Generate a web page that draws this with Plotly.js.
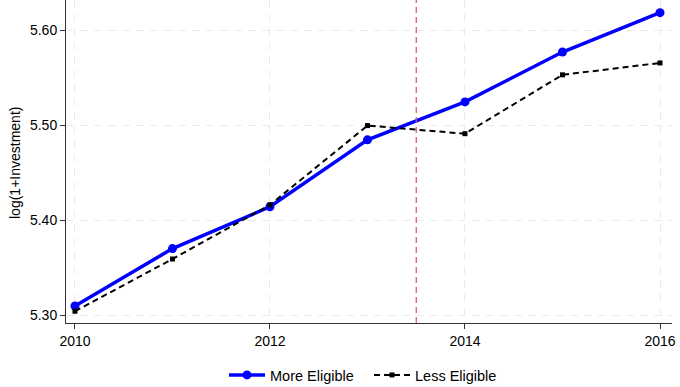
<!DOCTYPE html>
<html>
<head>
<meta charset="utf-8">
<script src="https://cdn.plot.ly/plotly-3.0.1.min.js"></script>
<style>html,body{margin:0;padding:0;background:#fff;}#chart{width:680px;height:387px;}</style>
</head>
<body>
<div id="chart"></div>
<script>
const years = [2010, 2011, 2012, 2013, 2014, 2015, 2016];
const moreEligible = [5.3095, 5.370, 5.414, 5.4845, 5.5245, 5.577, 5.6185];
const lessEligible = [5.304, 5.359, 5.416, 5.4995, 5.491, 5.553, 5.5655];
const xTicks = [2010, 2012, 2014, 2016];
const yTicks = [5.30, 5.40, 5.50, 5.60];
const policyYear = 2013.5;
const yTitle = 'log(1+Investment)';

const traces = [
  {x: years, y: moreEligible, name: 'More Eligible', type: 'scatter', mode: 'lines+markers',
   line: {color: '#0000ff', width: 3.5}, marker: {color: '#0000ff', size: 9, symbol: 'circle'}},
  {x: years, y: lessEligible, name: 'Less Eligible', type: 'scatter', mode: 'lines+markers',
   line: {color: '#000000', width: 2, dash: '6px,4px'}, marker: {color: '#000000', size: 5, symbol: 'square'}}
];

const layout = {
  width: 680, height: 387,
  margin: {l: 66, r: 8, t: 0, b: 64, autoexpand: false},
  paper_bgcolor: '#fff', plot_bgcolor: '#fff',
  font: {family: 'Liberation Sans, Arial, sans-serif', size: 14, color: '#000'},
  showlegend: true,
  legend: {orientation: 'h', xref: 'container', yref: 'container',
           x: 224/680, xanchor: 'left', y: 1 - 375/387, yanchor: 'middle',
           itemwidth: 36, entrywidth: 94, entrywidthmode: 'pixels', font: {size: 14.5}},
  xaxis: {range: [2009.908, 2016.123], tickvals: xTicks, ticktext: xTicks.map(String),
          showline: true, linecolor: '#333', linewidth: 1, ticks: 'outside', ticklen: 5, tickcolor: '#333',
          showgrid: true, gridcolor: '#ebebeb', griddash: '8px,6px', gridwidth: 1, zeroline: false,
          tickfont: {size: 14}},
  yaxis: {range: [5.2916, 5.6318], tickvals: yTicks, ticktext: yTicks.map(v => v.toFixed(2)),
          showline: true, linecolor: '#333', linewidth: 1, ticks: 'outside', ticklen: 5, tickcolor: '#333',
          showgrid: true, gridcolor: '#ebebeb', griddash: '8px,6px', gridwidth: 1, zeroline: false,
          tickfont: {size: 14}},
  annotations: [{text: yTitle, xref: 'paper', yref: 'paper', x: (15 - 66)/606, y: 1 - 163/323,
                 xanchor: 'center', yanchor: 'middle', textangle: -90, showarrow: false,
                 font: {size: 14}}],
  shapes: [{type: 'line', xref: 'x', yref: 'paper', x0: policyYear, x1: policyYear, y0: 0, y1: 1,
            line: {color: '#e0506e', width: 1.2, dash: '6px,4px'}}]
};

Plotly.newPlot('chart', traces, layout, {displayModeBar: false, staticPlot: true});
</script>
</body>
</html>
